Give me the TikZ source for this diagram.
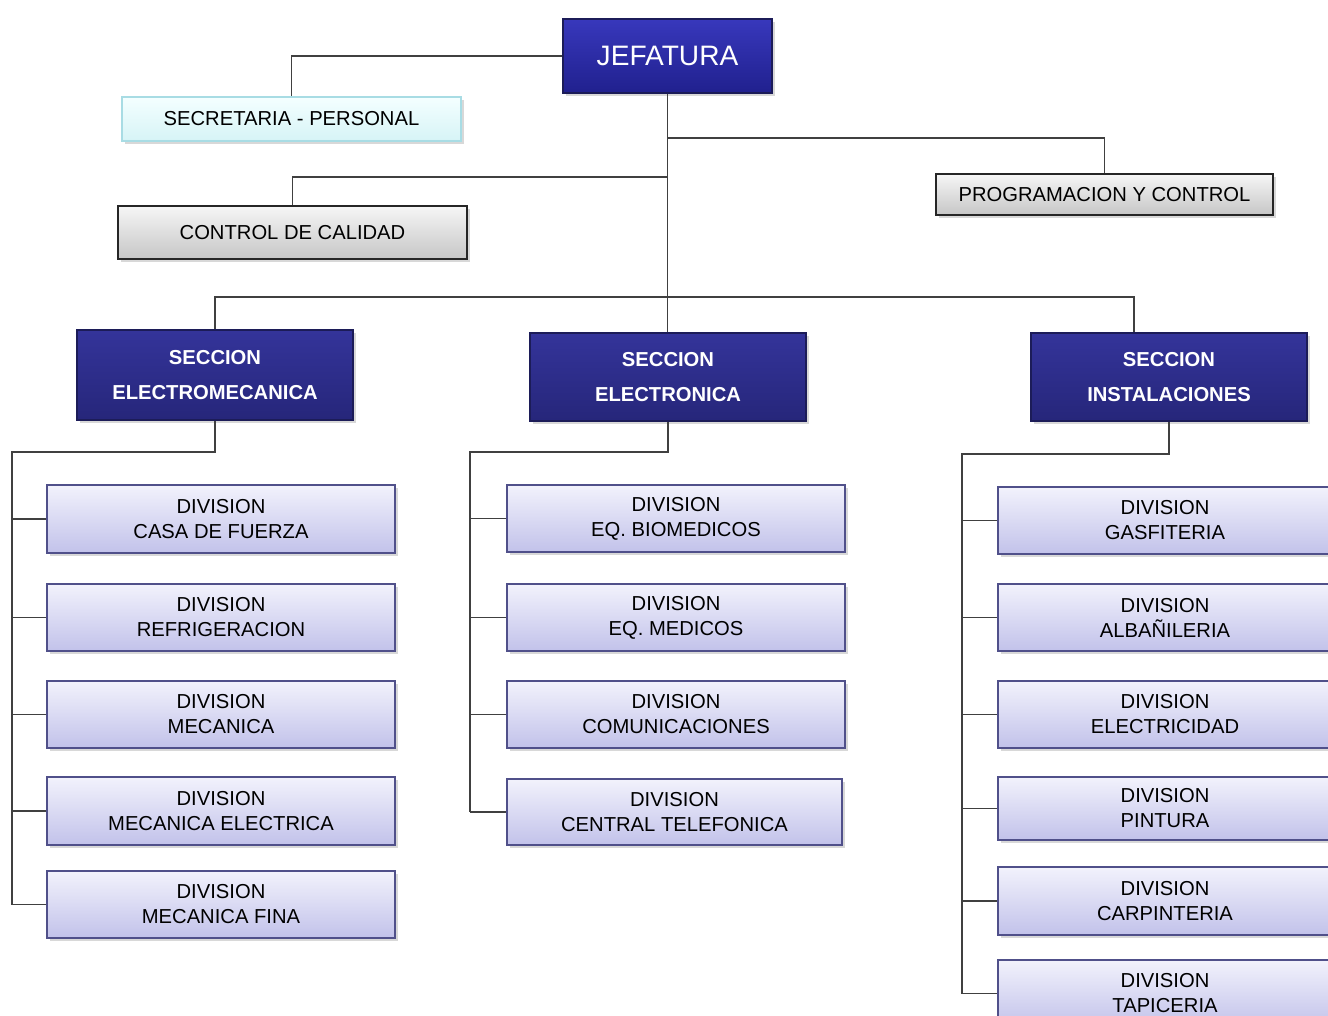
\documentclass[tikz,border=0pt]{standalone}
\usepackage{fontspec}
\setmainfont{Liberation Sans}
\usetikzlibrary{shadows}
\definecolor{lnc}{HTML}{404040}
\definecolor{divtop}{HTML}{F2F2FC}
\definecolor{divbot}{HTML}{C2C2EA}
\definecolor{divbd}{HTML}{50508A}
\definecolor{sectop}{HTML}{34349A}
\definecolor{secbot}{HTML}{26267A}
\definecolor{secbd}{HTML}{1C1C58}
\definecolor{jeftop}{HTML}{3838BC}
\definecolor{jefbot}{HTML}{20208E}
\definecolor{grytop}{HTML}{F6F6F6}
\definecolor{grybot}{HTML}{C6C6C6}
\definecolor{cyatop}{HTML}{F4FFFF}
\definecolor{cyabot}{HTML}{D6F4F6}
\definecolor{cyabd}{HTML}{A8DCE4}
\begin{document}
\begin{tikzpicture}[x=0.02cm,y=-0.02cm,
  sz/.style 2 args={minimum width={#1*0.02cm}, minimum height={#2*0.02cm}},
  base/.style={inner sep=0pt, align=center, line width=0.8pt,
    drop shadow={shadow xshift=1.5pt, shadow yshift=-1.5pt, opacity=0.3}},
  divbox/.style={base, draw=divbd, top color=divtop, bottom color=divbot,
    font=\fontsize{11.5}{14.2}\selectfont, text=black},
  secbox/.style={base, draw=secbd, top color=sectop, bottom color=secbot,
    font=\fontsize{11.5}{19.8}\selectfont\bfseries, text=white},
  jefbox/.style={base, draw=secbd, top color=jeftop, bottom color=jefbot,
    font=\fontsize{16}{19}\selectfont, text=white},
  grybox/.style={base, draw=black!85, top color=grytop, bottom color=grybot,
    font=\fontsize{11.5}{14}\selectfont, text=black},
  cyabox/.style={base, draw=cyabd, top color=cyatop, bottom color=cyabot,
    font=\fontsize{11.5}{14}\selectfont, text=black},
  conn/.style={draw=lnc, line width=0.75pt}]
\useasboundingbox[fill=white] (0,0) rectangle (1328,1016);

% top level
\node[jefbox, sz={209}{74}] (jef) at (667.5,56) {JEFATURA};
\node[cyabox, sz={339}{44}] (sec) at (291.5,119) {SECRETARIA - PERSONAL};
\node[grybox, sz={349}{53}] (cc) at (292.5,232.5) {CONTROL DE CALIDAD};
\node[grybox, sz={337}{41}] (prog) at (1104.5,194.5) {PROGRAMACION Y CONTROL};

% secciones
\node[secbox, sz={276}{90}] (s1) at (215,375) {SECCION\\ELECTROMECANICA};
\node[secbox, sz={276}{88}] (s2) at (668,377) {SECCION\\ELECTRONICA};
\node[secbox, sz={276}{88}] (s3) at (1169,377) {SECCION\\INSTALACIONES};

% left divisions
\node[divbox, sz={348}{68}] (d11) at (221,519) {DIVISION\\CASA DE FUERZA};
\node[divbox, sz={348}{67}] (d12) at (221,617.5) {DIVISION\\REFRIGERACION};
\node[divbox, sz={348}{67}] (d13) at (221,714.5) {DIVISION\\MECANICA};
\node[divbox, sz={348}{68}] (d14) at (221,811) {DIVISION\\MECANICA ELECTRICA};
\node[divbox, sz={348}{67}] (d15) at (221,904.5) {DIVISION\\MECANICA FINA};

% middle divisions
\node[divbox, sz={338}{67}] (d21) at (676,518.5) {DIVISION\\EQ. BIOMEDICOS};
\node[divbox, sz={338}{67}] (d22) at (676,617.5) {DIVISION\\EQ. MEDICOS};
\node[divbox, sz={338}{67}] (d23) at (676,714.5) {DIVISION\\COMUNICACIONES};
\node[divbox, sz={335}{66}] (d24) at (674.5,812) {DIVISION\\CENTRAL TELEFONICA};

% right divisions
\node[divbox, sz={334}{67}] (d31) at (1165,520.5) {DIVISION\\GASFITERIA};
\node[divbox, sz={334}{67}] (d32) at (1165,617.5) {DIVISION\\ALBAÑILERIA};
\node[divbox, sz={334}{67}] (d33) at (1165,714.5) {DIVISION\\ELECTRICIDAD};
\node[divbox, sz={334}{63}] (d34) at (1165,808.5) {DIVISION\\PINTURA};
\node[divbox, sz={334}{68}] (d35) at (1165,901) {DIVISION\\CARPINTERIA};
\node[divbox, sz={334}{67}] (d36) at (1165,993.5) {DIVISION\\TAPICERIA};

% coordinates
\coordinate (j1) at (667.5,138);
\coordinate (j2) at (667.5,177);
\coordinate (hub) at (667.5,297);
\coordinate (h3) at (1134,297);
\coordinate (e1) at (12,452);
\coordinate (e2) at (470,452);
\coordinate (e3) at (962,454);

% connectors top
\draw[conn] (jef.west) -| (sec.north);
\draw[conn] (jef.south) -- (hub);
\draw[conn] (j1) -| (prog.north);
\draw[conn] (j2) -| (cc.north);
\draw[conn] (hub) -| (s1.north);
\draw[conn] (hub) -- (h3) -- (h3 |- s3.north);
\draw[conn] (hub) -- (hub |- s2.north);

% electromecanica
\draw[conn] (s1.south) |- (e1) -- (e1 |- d15.west);
\foreach \n in {d11,d12,d13,d14,d15} \draw[conn] (e1 |- \n.west) -- (\n.west);
% electronica
\draw[conn] (s2.south) |- (e2) -- (e2 |- d24.west);
\foreach \n in {d21,d22,d23,d24} \draw[conn] (e2 |- \n.west) -- (\n.west);
% instalaciones
\draw[conn] (s3.south) |- (e3) -- (e3 |- d36.west);
\foreach \n in {d31,d32,d33,d34,d35,d36} \draw[conn] (e3 |- \n.west) -- (\n.west);
\end{tikzpicture}
\end{document}
